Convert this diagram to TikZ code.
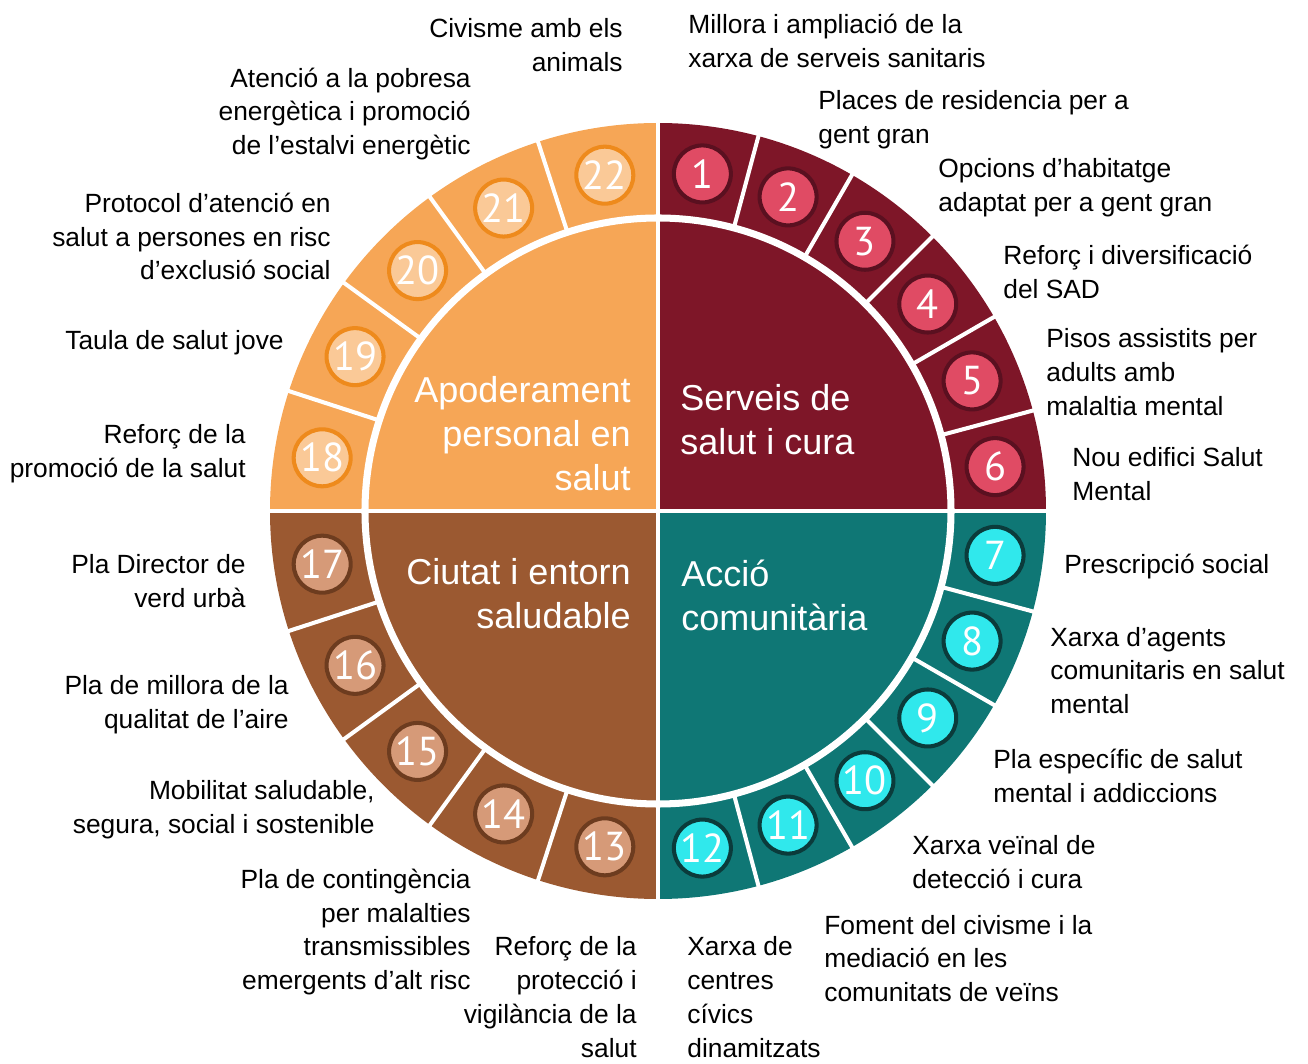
\documentclass[tikz,border=0pt]{standalone}
\usepackage{fontspec}
\setmainfont{Liberation Sans}
\newfontfamily\numfont{PT Sans}
\usetikzlibrary{positioning}
\definecolor{hsOrange}{HTML}{F6A656}
\definecolor{hsOrangeLight}{HTML}{FAC997}
\definecolor{hsOrangeDark}{HTML}{EE8A1C}
\definecolor{hsMaroon}{HTML}{7E1628}
\definecolor{hsRose}{HTML}{E04B64}
\definecolor{hsRoseDark}{HTML}{5A1020}
\definecolor{hsTeal}{HTML}{0F7775}
\definecolor{hsCyan}{HTML}{30E8EC}
\definecolor{hsTealDark}{HTML}{0B3B3B}
\definecolor{hsBrown}{HTML}{9B5931}
\definecolor{hsTan}{HTML}{D69A78}
\definecolor{hsBrownDark}{HTML}{6D3C1F}
\begin{document}
\begin{tikzpicture}[x=0.02cm, y=0.02cm,
  lbl/.style={font=\fontsize{15}{19.2}\selectfont, inner sep=0pt, text=black},
  lblL/.style={lbl, anchor=west, align=left},
  lblR/.style={lbl, anchor=east, align=right},
  ttl/.style={font=\fontsize{20.5}{25}\selectfont, inner sep=0pt, text=white},
  num/.style={circle, minimum size=1.14cm, inner sep=0pt, line width=2.3pt, font=\numfont\fontsize{23}{23}\selectfont, text=white},
  nMaroon/.style={num, fill=hsRose, draw=hsRoseDark},
  nTeal/.style={num, fill=hsCyan, draw=hsTealDark},
  nBrown/.style={num, fill=hsTan, draw=hsBrownDark},
  nOrange/.style={num, fill=hsOrangeLight, draw=hsOrangeDark},
  sep/.style={white, line width=2.3pt}]
  \useasboundingbox (-658,-553) rectangle (650,511);
  \fill[hsMaroon] (0,0) -- (0:388) arc[start angle=0, end angle=90, radius=388] -- cycle;
  \fill[hsOrange] (0,0) -- (90:388) arc[start angle=90, end angle=180, radius=388] -- cycle;
  \fill[hsBrown] (0,0) -- (180:388) arc[start angle=180, end angle=270, radius=388] -- cycle;
  \fill[hsTeal] (0,0) -- (270:388) arc[start angle=270, end angle=360, radius=388] -- cycle;
  \draw[white, line width=4pt] (0,0) circle[radius=293];
  \foreach \a in {15,30,45,60,75,-15,-30,-45,-60,-75,108,126,144,162,-108,-126,-144,-162}
    \draw[sep] (\a:292) -- (\a:392);
  \draw[white, line width=2.8pt] (-392,0) -- (392,0) (0,-392) -- (0,392);
  \foreach \n in {1,...,6} \node[nMaroon] (c\n) at ({97.5-15*\n}:340) {\n};
  \foreach \n in {7,...,12} \node[nTeal] (c\n) at ({97.5-15*\n}:340) {\n};
  \foreach \n in {13,...,17} \node[nBrown] (c\n) at ({495-18*\n}:340) {\n};
  \foreach \n in {18,...,22} \node[nOrange] (c\n) at ({495-18*\n}:340) {\n};
  \node[ttl, anchor=east, align=right] (apod) at (-27,77) {Apoderament\\personal en\\salut};
  \node[ttl, anchor=west, align=left] (serv) at (22,91) {Serveis de\\salut i cura};
  \node[ttl, anchor=east, align=right] (ciut) at (-27,-82.5) {Ciutat i entorn\\saludable};
  \node[ttl, anchor=west, align=left] (acci) at (23,-84) {Acció\\comunitària};
  \node[lblL] (t1) at (30,470) {Millora i ampliació de la\\xarxa de serveis sanitaris};
  \node[lblL] (t2) at (160,391) {Places de residencia per a\\gent gran};
  \node[lblL] (t3) at (280,323) {Opcions d’habitatge\\adaptat per a gent gran};
  \node[lblL] (t4) at (345,239) {Reforç i diversificació\\del SAD};
  \node[lblL] (t5) at (388,139) {Pisos assistits per\\adults amb\\malaltia mental};
  \node[lblL] (t6) at (414,37) {Nou edifici Salut\\Mental};
  \node[lblL] (t7) at (406,-56) {Prescripció social};
  \node[lblL] (t8) at (392,-159.5) {Xarxa d’agents\\comunitaris en salut\\mental};
  \node[lblL] (t9) at (335,-265) {Pla específic de salut\\mental i addiccions};
  \node[lblL] (t10) at (254,-351) {Xarxa veïnal de\\detecció i cura};
  \node[lblL] (t11) at (166,-447.5) {Foment del civisme i la\\mediació en les\\comunitats de veïns};
  \node[lblL] (t12) at (29,-486) {Xarxa de\\centres\\cívics\\dinamitzats};
  \node[lblR] (t13) at (-21,-486) {Reforç de la\\protecció i\\vigilància de la\\salut};
  \node[lblR] (t14) at (-187,-421) {Pla de contingència\\per malalties\\transmissibles\\emergents d’alt risc};
  \node[lblR] (t15) at (-283,-299) {Mobilitat saludable,\\segura, social i sostenible};
  \node[lblR] (t16) at (-369,-194) {Pla de millora de la\\qualitat de l’aire};
  \node[lblR] (t17) at (-412,-70) {Pla Director de\\verd urbà};
  \node[lblR] (t18) at (-412,57) {Reforç de la\\promoció de la salut};
  \node[lblR] (t19) at (-374,168) {Taula de salut jove};
  \node[lblR] (t20) at (-327,274.5) {Protocol d’atenció en\\salut a persones en risc\\d’exclusió social};
  \node[lblR] (t21) at (-187,397) {Atenció a la pobresa\\energètica i promoció\\de l’estalvi energètic};
  \node[lblR] (t22) at (-35,466) {Civisme amb els\\animals};
\end{tikzpicture}
\end{document}
